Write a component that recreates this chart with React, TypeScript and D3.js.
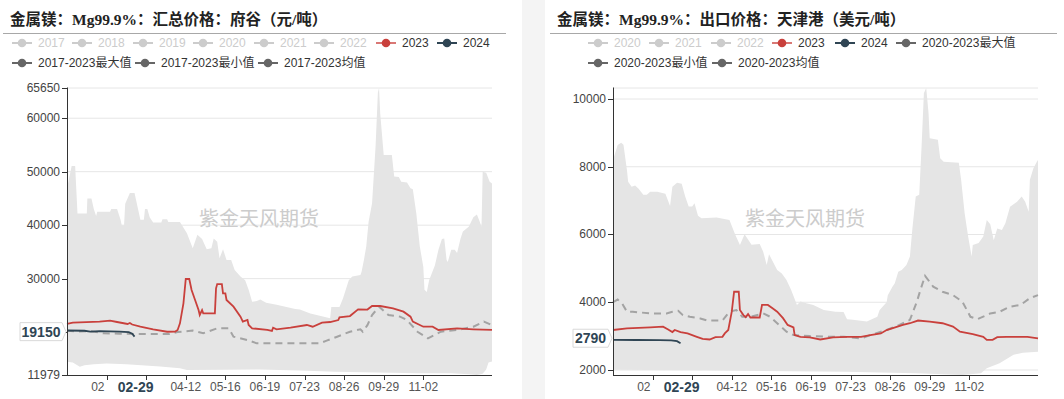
import React from "react";
import * as d3 from "d3";

type P = [number, number];

// ---------- shared axis data ----------
const tickDays = [34, 68, 102, 136, 170, 204, 238, 272, 306];
const currentDay = 59; // 02-29 (2024 leap-year calendar)

// ---------- left chart data: 府谷 (元/吨) ----------
const leftTitle = "金属镁：Mg99.9%：汇总价格：府谷（元/吨）";
const leftLegend1 = ["2017", "2018", "2019", "2020", "2021", "2022", "2023", "2024"];
const leftLegend2 = ["2017-2023最大值", "2017-2023最小值", "2017-2023均值"];
const leftYDomain: P = [11979, 65650];
const leftYTicks = [11979, 20000, 30000, 40000, 50000, 60000, 65650];
const leftLatest = 19150;

const leftMax: P[] = [[0,46900],[4,51060],[7,51060],[9,42200],[17,42200],[17.5,45000],[21,45000],[23,43000],[25,41700],[26,42500],[37,42500],[38,43000],[43,43000],[46,41000],[47,40000],[49,40000],[50,44000],[54,46000],[58,46000],[61,43000],[63,41000],[66,41000],[67,43000],[69,43000],[71,41500],[74,40500],[81,40500],[82,41100],[86,41100],[87,40600],[97,40600],[103,38500],[108,35700],[112,38200],[116,37400],[120,35500],[124,35700],[126,37500],[129,36900],[131,33800],[134,35500],[137,33500],[141,33500],[144,31600],[149,30400],[153,29700],[156,27900],[159,25700],[163,25800],[166,26100],[171,25500],[180,25100],[196,24300],[200,24250],[209,23500],[226,22600],[227,24700],[234,24700],[237,26300],[242,29700],[245,30400],[252,30700],[253,31300],[255,33500],[257,36000],[259,40600],[262,44100],[265,54700],[267,64800],[268,65650],[269,60900],[272,53100],[279,53100],[281,49100],[285,49000],[287,48100],[292,48000],[295,46900],[297,46700],[300,42200],[303,36000],[306,32200],[307,27900],[309,27500],[311,29700],[316,32500],[319,35400],[322,37400],[324,37500],[326,33500],[327,33100],[330,35400],[333,35400],[335,34800],[338,37500],[340,38800],[345,39700],[349,41500],[352,42000],[354,40900],[356,39700],[357,50000],[360,49800],[363,48100],[365,47800]];

const leftMin: P[] = [[0,14460],[5,14300],[11,13500],[15,13800],[23,14000],[34,14150],[51,14000],[80,13550],[97,13250],[103,12900],[137,12950],[165,13000],[200,12800],[230,12600],[280,12400],[300,12300],[330,12300],[345,12100],[352,11979],[357,12200],[360,13000],[362,14300],[365,14500]];

const leftAvg: P[] = [[0,20260],[10,20100],[20,20200],[31,19780],[45,19700],[60,19650],[88,19650],[95,20000],[108,20300],[117,19780],[129,20700],[139,20700],[143,19140],[155,18520],[163,17900],[177,17900],[217,17900],[223,18400],[232,19140],[243,20070],[252,20530],[254,20070],[258,21300],[262,23200],[268,24750],[276,23200],[286,22900],[292,22265],[301,20070],[310,18840],[321,20070],[335,20400],[349,21000],[358,21950],[363,21500],[365,21300]];

const left2023: P[] = [[0,21520],[5,21760],[28,21950],[37,22130],[43,21890],[52,21520],[54,21700],[56,21420],[63,21010],[74,20530],[86,20070],[93,20110],[95,20400],[97,21650],[100,25390],[102,29930],[105,29930],[107,27870],[110,26000],[113,24130],[114,23200],[116,24130],[117,23510],[127,23510],[128,28190],[129,28990],[133,28990],[134,27250],[136,27250],[137,26000],[143,24750],[149,22880],[151,21950],[155,22260],[156,21330],[159,20710],[172,20400],[176,20210],[177,20830],[180,20530],[192,20830],[206,21330],[211,21010],[219,21760],[226,21890],[233,22260],[234,22760],[243,23000],[250,24260],[258,24220],[262,24880],[269,24880],[280,24450],[289,23820],[295,22880],[297,21950],[303,21330],[306,21010],[314,21010],[319,20400],[335,20710],[349,20530],[365,20400]];

const left2024: P[] = [[0,20300],[15,20250],[20,20100],[28,20200],[45,20100],[53,20000],[56,19700],[58,19150]];

// ---------- right chart data: 天津港 (美元/吨) ----------
const rightTitle = "金属镁：Mg99.9%：出口价格：天津港（美元/吨）";
const rightLegend1 = ["2020", "2021", "2022", "2023", "2024", "2020-2023最大值"];
const rightLegend2 = ["2020-2023最小值", "2020-2023均值"];
const rightYDomain: P = [1852, 10325];
const rightYTicks = [2000, 4000, 6000, 8000, 10000];
const rightLatest = 2790;

const rightMax: P[] = [[0,8200],[4,8640],[7,8710],[9,8650],[12,7900],[13,7560],[16,7410],[19,7450],[22,7350],[26,7170],[29,7170],[32,7260],[38,7260],[45,7200],[49,6840],[51,7410],[55,7530],[59,7500],[62,7120],[65,6830],[68,6830],[70,6920],[73,6550],[76,6480],[89,6500],[100,6430],[105,5990],[109,5690],[113,6010],[116,5850],[119,5700],[126,5720],[129,5490],[132,5100],[134,5420],[138,5150],[141,4950],[145,4850],[149,4660],[153,4360],[158,3920],[161,4020],[166,3970],[172,3920],[181,3770],[191,3720],[198,3710],[201,3500],[206,3480],[218,3430],[227,3570],[229,3770],[235,4000],[236,4210],[240,4460],[242,4560],[245,4900],[248,4950],[252,5100],[255,5350],[257,6130],[260,7120],[263,7170],[265,8590],[267,10170],[269,10325],[271,9580],[272,8840],[279,8800],[281,8250],[284,8150],[297,8120],[299,7610],[302,6630],[305,5940],[308,5350],[309,5690],[314,5750],[318,5940],[321,6430],[324,6300],[327,5830],[330,6180],[334,6130],[337,6330],[341,6820],[347,6970],[351,7120],[354,6970],[357,6670],[358,7610],[361,7950],[364,8150],[365,8200]];

const rightMin: P[] = [[0,2010],[30,2000],[80,1990],[150,1960],[200,1950],[260,1900],[300,1852],[316,1900],[321,2050],[332,2200],[344,2450],[352,2510],[365,2540]];

const rightAvg: P[] = [[0,4000],[4,4080],[8,3950],[12,3720],[17,3720],[32,3670],[46,3670],[51,3720],[56,3750],[60,3620],[66,3570],[75,3520],[81,3460],[94,3460],[100,3720],[106,3770],[111,3570],[118,3570],[129,3670],[135,3570],[141,3380],[149,3130],[155,3030],[169,3000],[184,2980],[198,2980],[213,2930],[221,3030],[235,3180],[246,3330],[255,3480],[261,4020],[264,4360],[268,4780],[275,4460],[283,4310],[292,4210],[300,4020],[307,3570],[313,3500],[324,3670],[332,3720],[341,3870],[350,3920],[358,4120],[365,4210]];

const right2023: P[] = [[0,3180],[12,3230],[32,3260],[43,3280],[47,3200],[51,3120],[53,3180],[58,3120],[64,3080],[72,2980],[77,2920],[83,2900],[88,2970],[94,2980],[96,3080],[99,3180],[102,3720],[104,4310],[108,4310],[109,3770],[112,3620],[114,3560],[116,3650],[118,3550],[126,3550],[128,3920],[133,3920],[137,3820],[141,3720],[146,3530],[150,3330],[155,3260],[156,3030],[161,2980],[169,2960],[178,2900],[189,2960],[201,2980],[213,2980],[221,3030],[230,3080],[235,3180],[249,3330],[255,3380],[262,3460],[272,3430],[283,3380],[292,3280],[298,3130],[309,3060],[318,2980],[321,2890],[326,2890],[330,2970],[338,2980],[356,2980],[365,2930]];

const right2024: P[] = [[0,2890],[20,2885],[40,2880],[50,2875],[55,2850],[58,2790]];

// ---------- styling ----------
const RED = "#c9403c";
const NAVY = "#2f4554";
const INACTIVE = "#cccccc";
const STAT = "#666666";
const BAND = "#e5e5e5";
const SANS = "'Liberation Sans', 'Noto Sans CJK SC', sans-serif";
const SERIF = "'Liberation Serif', 'Noto Sans CJK SC', serif";

type LegendItem = { label: string; x: number; row: number };

type PanelProps = {
  x0: number; x1: number; top: number; bottom: number;
  title: string; titleX: number; ruleX0: number; ruleX1: number;
  legend: LegendItem[]; inactive: Set<string>;
  yDomain: P; yTicks: number[]; showMinMaxLabels: boolean; topGrid: boolean;
  max: P[]; min: P[]; avg: P[]; s2023: P[]; s2024: P[]; latest: number;
  wmX: number; boxX0: number;
};

function legendColor(label: string, inactive: Set<string>) {
  if (inactive.has(label)) return INACTIVE;
  if (label === "2023") return RED;
  if (label === "2024") return NAVY;
  return STAT;
}

function Panel(p: PanelProps) {
  const x = d3.scaleLinear().domain([0, 365]).range([p.x0, p.x1]);
  const y = d3.scaleLinear().domain(p.yDomain).range([p.bottom, p.top]);
  const line = d3.line<P>().x((d) => x(d[0])).y((d) => y(d[1]));
  const band = (line([...p.max, ...p.min.slice().reverse()]) || "") + "Z";
  const fmt = d3.timeFormat("%m-%d");
  const dayLabel = (d: number) => fmt(new Date(2024, 0, 1 + d));
  const gridVals = p.yTicks.filter((v) => v !== p.yDomain[0]);
  const boxCy = y(p.latest) - 5;
  const boxX1 = p.x0 - 5;
  const boxH = 18;
  const curX = x(currentDay);
  const curHalf = 31; // half width of the current-date label area
  const tickLabelHalf = 15.4; // half width of an "MM-DD" tick label

  return (
    <g>
      {/* title */}
      <text x={p.titleX} y={25} fontFamily={SERIF} fontWeight="bold" fontSize={15.5} fill="#222">{p.title}</text>
      <line x1={p.ruleX0} x2={p.ruleX1} y1={33.5} y2={33.5} stroke="#a8a8a8" strokeWidth={1} />

      {/* legend */}
      {p.legend.map((it) => {
        const c = legendColor(it.label, p.inactive);
        const cy = it.row === 0 ? 43 : 63;
        return (
          <g key={it.label}>
            <line x1={it.x} x2={it.x + 20} y1={cy} y2={cy} stroke={c} strokeWidth={2} opacity={it.label === "2023" ? 0.7 : 1} />
            <circle cx={it.x + 10} cy={cy} r={4.3} fill={c} />
            <text x={it.x + 26} y={cy + 4.2} fontFamily={SANS} fontSize={12} fill={p.inactive.has(it.label) ? INACTIVE : "#333"}>{it.label}</text>
          </g>
        );
      })}

      {/* grid */}
      {gridVals.map((v) => (
        <line key={"g" + v} x1={p.x0} x2={p.x1} y1={y(v)} y2={y(v)} stroke="#e6e6e6" strokeWidth={1} />
      ))}
      {p.topGrid && <line x1={p.x0} x2={p.x1} y1={p.top} y2={p.top} stroke="#e6e6e6" strokeWidth={1} />}

      {/* band */}
      <path d={band} fill={BAND} stroke="none" />

      {/* watermark */}
      <text x={p.wmX} y={226} textAnchor="middle" fontFamily="'Noto Sans CJK SC', sans-serif" fontSize={20} fill="#cccccc">紫金天风期货</text>

      {/* series */}
      <path d={line(p.avg) || ""} fill="none" stroke="#a3a3a3" strokeWidth={2} strokeDasharray="7 5" />
      <path d={line(p.s2023) || ""} fill="none" stroke={RED} strokeWidth={1.8} />
      <path d={line(p.s2024) || ""} fill="none" stroke={NAVY} strokeWidth={1.8} />

      {/* y axis */}
      <line x1={p.x0 + 0.5} x2={p.x0 + 0.5} y1={p.top - 0.5} y2={p.bottom} stroke="#333" strokeWidth={1} />
      {p.yTicks.map((v) => {
        const isEdge = v === p.yDomain[0] || v === p.yDomain[1];
        if (isEdge && !p.showMinMaxLabels) return null;
        const hiddenByBox = Math.abs(y(v) - boxCy) < boxH;
        return (
          <g key={"y" + v}>
            <line x1={p.x0 - 5} x2={p.x0} y1={Math.round(y(v)) + 0.5} y2={Math.round(y(v)) + 0.5} stroke="#333" />
            {!hiddenByBox && (
              <text x={p.x0 - 7} y={y(v) + 4} textAnchor="end" fontFamily={SANS} fontSize={12} fill="#444">{v}</text>
            )}
          </g>
        );
      })}

      {/* x axis */}
      <line x1={p.x0} x2={p.x1} y1={p.bottom + 0.5} y2={p.bottom + 0.5} stroke="#333" strokeWidth={1} />
      {tickDays.map((d) => {
        const cx = x(d);
        const left = cx - tickLabelHalf;
        const right = cx + tickLabelHalf;
        const boxL = curX - curHalf;
        const boxR = curX + curHalf;
        let label: React.ReactNode = null;
        if (right < boxL || left > boxR) {
          label = <text x={cx} y={391} textAnchor="middle" fontFamily={SANS} fontSize={12} fill="#555">{dayLabel(d)}</text>;
        } else if (left < boxL) {
          // partly covered by the current-date label: only the month part stays visible
          label = <text x={left} y={391} textAnchor="start" fontFamily={SANS} fontSize={12} fill="#555">{dayLabel(d).slice(0, 2)}</text>;
        }
        return (
          <g key={"x" + d}>
            <line x1={Math.round(cx) + 0.5} x2={Math.round(cx) + 0.5} y1={p.bottom} y2={p.bottom + 5} stroke="#333" />
            {label}
          </g>
        );
      })}
      {/* current date label */}
      <text x={curX} y={392} textAnchor="middle" fontFamily={SANS} fontSize={14} fontWeight="bold" fill={NAVY}>{dayLabel(currentDay)}</text>

      {/* latest value label */}
      <path
        d={`M${p.boxX0},${boxCy - boxH / 2} H${boxX1} L${boxX1 + 4},${boxCy} L${boxX1},${boxCy + boxH / 2} H${p.boxX0} Z`}
        fill="#fff" stroke="#d9d9d9" strokeWidth={1}
      />
      <text x={(p.boxX0 + boxX1) / 2} y={boxCy + 5} textAnchor="middle" fontFamily={SANS} fontSize={14} fontWeight="bold" fill={NAVY}>{p.latest}</text>
    </g>
  );
}

const leftLegendX1 = [12, 72, 133, 193, 254, 314, 376, 437];
const leftLegendX2 = [12, 135, 258];
const rightLegendX1 = [588, 649, 711, 772, 835, 896];
const rightLegendX2 = [588, 712];

export default function App() {
  const leftLegend: LegendItem[] = [
    ...leftLegend1.map((l, i) => ({ label: l, x: leftLegendX1[i], row: 0 })),
    ...leftLegend2.map((l, i) => ({ label: l, x: leftLegendX2[i], row: 1 })),
  ];
  const rightLegend: LegendItem[] = [
    ...rightLegend1.map((l, i) => ({ label: l, x: rightLegendX1[i], row: 0 })),
    ...rightLegend2.map((l, i) => ({ label: l, x: rightLegendX2[i], row: 1 })),
  ];
  return (
    <svg width={1064} height={399} style={{ position: "absolute", left: 0, top: 0, display: "block" }}>
      <rect x={0} y={0} width={1064} height={399} fill="#fff" />
      <rect x={522} y={0} width={23} height={399} fill="#f4f4f4" />
      <Panel
        x0={67} x1={492} top={88} bottom={375}
        title={leftTitle} titleX={10} ruleX0={3} ruleX1={506}
        legend={leftLegend} inactive={new Set(["2017", "2018", "2019", "2020", "2021", "2022"])}
        yDomain={leftYDomain} yTicks={leftYTicks} showMinMaxLabels={true} topGrid={false}
        max={leftMax} min={leftMin} avg={leftAvg} s2023={left2023} s2024={left2024} latest={leftLatest}
        wmX={259} boxX0={20}
      />
      <Panel
        x0={613} x1={1038} top={88} bottom={375}
        title={rightTitle} titleX={557} ruleX0={550} ruleX1={1057}
        legend={rightLegend} inactive={new Set(["2020", "2021", "2022"])}
        yDomain={rightYDomain} yTicks={rightYTicks} showMinMaxLabels={false} topGrid={true}
        max={rightMax} min={rightMin} avg={rightAvg} s2023={right2023} s2024={right2024} latest={rightLatest}
        wmX={805} boxX0={573}
      />
    </svg>
  );
}
